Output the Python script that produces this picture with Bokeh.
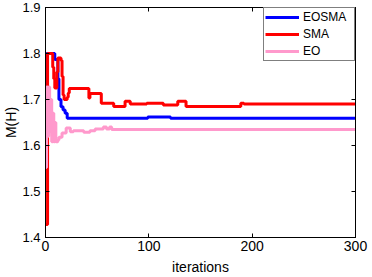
from bokeh.plotting import figure
from bokeh.models import Range1d, LinearAxis, FixedTicker, Legend, LegendItem
from bokeh.embed import file_html
from bokeh.resources import INLINE

# ---- data ----
iters_eosma = [0, 1, 9, 12, 13, 15, 17, 19, 21, 99, 121, 300]
vals_eosma = [1.727, 1.800, 1.787, 1.745, 1.700, 1.684, 1.677, 1.670, 1.659,
              1.662, 1.659, 1.659]

iters_sma = [0, 2, 7, 8, 9, 11, 12, 15, 16, 17, 18, 21, 22, 23, 42, 43, 54,
             66, 77, 82, 98, 114, 128, 136, 189, 192, 300]
vals_sma = [1.428, 1.800, 1.770, 1.745, 1.725, 1.760, 1.790, 1.785, 1.750,
            1.710, 1.700, 1.705, 1.714, 1.724, 1.703, 1.713, 1.692, 1.685,
            1.696, 1.690, 1.692, 1.688, 1.696, 1.685, 1.692, 1.690, 1.690]

iters_eo = [0, 1, 2, 3, 4, 5, 6, 7, 8, 9, 10, 12, 13, 16, 20, 24, 27, 37,
            43, 48, 56, 59, 62, 64, 300]
vals_eo = [1.552, 1.727, 1.620, 1.727, 1.630, 1.700, 1.608, 1.670, 1.608,
           1.650, 1.608, 1.612, 1.618, 1.627, 1.638, 1.630, 1.632, 1.629,
           1.632, 1.636, 1.640, 1.636, 1.640, 1.635, 1.635]

series_names = ["EOSMA", "SMA", "EO"]
series_colors = ["#0000ff", "#ff0000", "#ff99cc"]

x_ticks = [0, 100, 200, 300]
y_ticks = [1.4, 1.5, 1.6, 1.7, 1.8, 1.9]
x_label = "iterations"
y_label = "M(H)"

FONT = "Liberation Sans"

p = figure(width=372, height=277, output_backend="svg", toolbar_location=None,
           x_range=Range1d(0, 300), y_range=Range1d(1.4, 1.9),
           min_border=0, min_border_left=45, min_border_right=17,
           min_border_top=7, min_border_bottom=39)
p.xgrid.visible = False
p.ygrid.visible = False
p.outline_line_color = "black"
p.outline_line_width = 1
p.background_fill_color = "white"
p.border_fill_color = "white"

def style_axis(ax, ticks):
    ax.ticker = FixedTicker(ticks=ticks)
    ax.major_tick_in = 4
    ax.major_tick_out = 0
    ax.minor_tick_line_color = None
    ax.axis_line_color = "black"
    ax.major_tick_line_color = "black"
    ax.major_label_text_font = FONT
    ax.major_label_text_color = "black"
    ax.major_label_text_line_height = 1.0
    ax.axis_label_text_font = FONT
    ax.axis_label_text_font_style = "normal"
    ax.axis_label_text_color = "black"
    ax.axis_label_text_line_height = 1.0

style_axis(p.xaxis[0], x_ticks)
style_axis(p.yaxis[0], y_ticks)
p.xaxis.major_label_text_font_size = "14px"
p.yaxis.major_label_text_font_size = "13px"
p.xaxis.major_label_standoff = 3
p.yaxis.major_label_standoff = 5
p.xaxis.axis_label = x_label
p.yaxis.axis_label = y_label
p.xaxis.axis_label_text_font_size = "14px"
p.yaxis.axis_label_text_font_size = "14px"
p.xaxis.axis_label_standoff = 5
p.yaxis.axis_label_standoff = 0
p.yaxis.major_label_overrides = {t: f"{t:.1f}" for t in y_ticks}

top = LinearAxis()
style_axis(top, x_ticks)
top.major_label_text_font_size = "0px"
top.major_label_standoff = 0
top.major_label_overrides = {t: "" for t in x_ticks}
p.add_layout(top, "above")

right = LinearAxis()
style_axis(right, y_ticks)
right.major_label_text_font_size = "0px"
right.major_label_standoff = 0
right.major_label_overrides = {t: "" for t in y_ticks}
p.add_layout(right, "right")

renderers = []
for xs, ys, c in [(iters_eosma, vals_eosma, series_colors[0]),
                  (iters_sma, vals_sma, series_colors[1]),
                  (iters_eo, vals_eo, series_colors[2])]:
    r = p.step(xs, ys, mode="after", line_color=c, line_width=3)
    renderers.append(r)

legend = Legend(items=[LegendItem(label=n, renderers=[r])
                       for n, r in zip(series_names, renderers)],
                location="top_right", margin=0, padding=1, spacing=1,
                glyph_width=34, glyph_height=16, label_height=16,
                label_width=50, label_standoff=4,
                label_text_font=FONT, label_text_font_size="12px",
                label_text_color="black",
                border_line_color="black", border_line_width=1,
                background_fill_color="white", background_fill_alpha=1)
p.add_layout(legend)

open("out.html", "w").write(file_html(p, INLINE))
